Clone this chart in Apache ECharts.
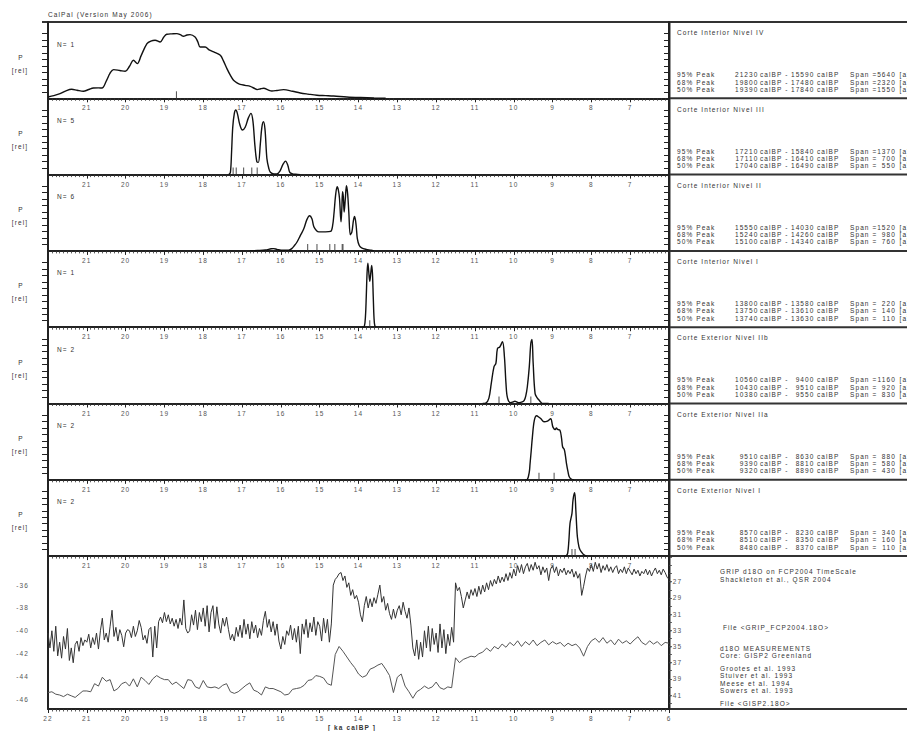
<!DOCTYPE html>
<html><head><meta charset="utf-8">
<script src="https://cdn.jsdelivr.net/npm/echarts@6/dist/echarts.min.js"></script>
<style>
html,body{margin:0;padding:0;background:#fff;}
#c{width:907px;height:731px;}
#c text{letter-spacing:1.1px;}
</style></head><body><div id="c"></div>
<script>
// ---------- DATA ----------
const panelTitles = ['Corte Interior Nivel IV','Corte Interior Nivel III','Corte Interior Nivel II','Corte Interior Nivel I','Corte Exterior Nivel IIb','Corte Exterior Nivel IIa','Corte Exterior Nivel I'];
const panelN = [1,5,6,1,2,2,2];
const peakLabels = ['95% Peak','68% Peak','50% Peak'];
// [from calBP, to calBP, span]
const statsIV   = [['21230','15590','5640'],['19800','17480','2320'],['19390','17840','1550']];
const statsIII  = [['17210','15840','1370'],['17110','16410','700'],['17040','16490','550']];
const statsII   = [['15550','14030','1520'],['15240','14260','980'],['15100','14340','760']];
const statsI    = [['13800','13580','220'],['13750','13610','140'],['13740','13630','110']];
const statsExIIb= [['10560','9400','1160'],['10430','9510','920'],['10380','9550','830']];
const statsExIIa= [['9510','8630','880'],['9390','8810','580'],['9320','8890','430']];
const statsExI  = [['8570','8230','340'],['8510','8350','160'],['8480','8370','110']];

// individual dates (ka calBP)
const datesIV = [18.69];
const datesIII = [17.23,17.15,16.96,16.75,16.61];
const datesII = [15.31,15.07,14.74,14.61,14.42,14.40];
const datesI = [13.71];
const datesExIIb = [10.38,9.56];
const datesExIIa = [9.35,8.96];
const datesExI = [8.50,8.42];

// summed probability [ka calBP, P rel]
const kdeIV = [[22.0,0.017],[21.85,0.035],[21.69,0.06],[21.55,0.095],[21.39,0.118],[21.25,0.105],[21.09,0.092],[20.95,0.115],[20.83,0.135],[20.7,0.137],[20.61,0.135],[20.49,0.236],[20.4,0.33],[20.31,0.376],[20.15,0.365],[20.01,0.354],[19.9,0.42],[19.8,0.498],[19.7,0.455],[19.6,0.56],[19.45,0.717],[19.35,0.75],[19.24,0.76],[19.11,0.738],[19.02,0.8],[18.94,0.839],[18.8,0.845],[18.68,0.848],[18.58,0.83],[18.51,0.813],[18.42,0.83],[18.34,0.835],[18.21,0.804],[18.14,0.74],[18.08,0.672],[17.95,0.672],[17.85,0.635],[17.73,0.607],[17.56,0.563],[17.48,0.49],[17.39,0.389],[17.3,0.3],[17.22,0.236],[17.12,0.2],[17.05,0.183],[16.92,0.17],[16.79,0.157],[16.7,0.135],[16.61,0.114],[16.52,0.125],[16.44,0.131],[16.33,0.11],[16.23,0.096],[16.1,0.103],[15.93,0.114],[15.7,0.092],[15.5,0.07],[15.3,0.055],[15.07,0.04],[14.85,0.035],[14.64,0.03],[14.3,0.018],[13.95,0.01],[13.6,0.004],[13.3,0.0]];
const kdeIII = [[17.34,0.0],[17.3,0.03],[17.27,0.3],[17.24,0.62],[17.2,0.8],[17.16,0.846],[17.12,0.8],[17.06,0.66],[16.99,0.584],[16.92,0.62],[16.84,0.74],[16.77,0.803],[16.72,0.7],[16.67,0.387],[16.62,0.17],[16.58,0.16],[16.53,0.4],[16.49,0.62],[16.45,0.693],[16.41,0.6],[16.36,0.21],[16.31,0.08],[16.27,0.03],[16.18,0.008],[16.1,0.01],[16.02,0.05],[15.95,0.13],[15.88,0.177],[15.82,0.12],[15.77,0.03],[15.7,0.01],[15.62,0.004],[15.5,0.0]];
const kdeII = [[16.8,0.0],[16.6,0.005],[16.4,0.012],[16.25,0.028],[16.19,0.03],[16.1,0.02],[15.95,0.008],[15.8,0.01],[15.72,0.03],[15.65,0.07],[15.58,0.12],[15.5,0.2],[15.41,0.29],[15.33,0.41],[15.26,0.46],[15.2,0.42],[15.15,0.316],[15.08,0.265],[15.02,0.25],[14.85,0.25],[14.72,0.255],[14.67,0.32],[14.63,0.5],[14.59,0.73],[14.55,0.84],[14.52,0.8],[14.49,0.69],[14.45,0.38],[14.43,0.55],[14.41,0.775],[14.39,0.7],[14.37,0.51],[14.34,0.68],[14.31,0.853],[14.28,0.75],[14.25,0.51],[14.21,0.21],[14.17,0.25],[14.13,0.4],[14.1,0.45],[14.06,0.33],[14.03,0.16],[13.98,0.07],[13.92,0.04],[13.8,0.02],[13.68,0.01],[13.6,0.0]];
const kdeI = [[13.9,0.0],[13.85,0.01],[13.82,0.15],[13.8,0.4],[13.78,0.7],[13.76,0.84],[13.74,0.75],[13.71,0.6],[13.69,0.68],[13.66,0.81],[13.64,0.7],[13.62,0.4],[13.6,0.12],[13.58,0.02],[13.55,0.0]];
const kdeExIIb = [[10.8,0.0],[10.72,0.005],[10.64,0.07],[10.58,0.26],[10.51,0.48],[10.46,0.525],[10.42,0.72],[10.36,0.74],[10.29,0.81],[10.24,0.61],[10.2,0.26],[10.16,0.07],[10.08,0.012],[10.02,0.02],[9.97,0.03],[9.92,0.02],[9.86,0.01],[9.78,0.02],[9.73,0.04],[9.69,0.1],[9.65,0.22],[9.6,0.48],[9.56,0.79],[9.53,0.84],[9.5,0.53],[9.45,0.13],[9.39,0.07],[9.35,0.045],[9.3,0.015],[9.26,0.0],[9.1,0.0]];
const kdeExIIa = [[9.7,0.0],[9.65,0.005],[9.6,0.1],[9.58,0.21],[9.55,0.38],[9.52,0.56],[9.47,0.78],[9.41,0.84],[9.35,0.82],[9.3,0.8],[9.22,0.76],[9.13,0.77],[9.05,0.8],[8.99,0.69],[8.93,0.66],[8.9,0.68],[8.87,0.66],[8.81,0.65],[8.77,0.55],[8.74,0.43],[8.7,0.4],[8.67,0.32],[8.64,0.21],[8.6,0.1],[8.57,0.04],[8.52,0.01],[8.45,0.0]];
const kdeExI = [[8.7,0.0],[8.65,0.005],[8.61,0.04],[8.58,0.2],[8.55,0.43],[8.5,0.56],[8.48,0.7],[8.46,0.78],[8.43,0.83],[8.4,0.6],[8.38,0.4],[8.36,0.25],[8.32,0.12],[8.29,0.08],[8.25,0.05],[8.2,0.02],[8.12,0.0]];

// GRIP d18O (per mil), 22.00 -> 6.00 ka calBP every 0.05 ka
const gripStart = 22, gripStep = 0.05;
const gripD18O = [
-40.2,-41.5,-40.0,-41.8,-39.6,-42.2,-41.0,-42.4,-40.5,-41.6,-39.8,-42.6,-41.5,-42.8,-41.2,-40.9,-41.8,-40.6,-41.3,-40.8,
-41.0,-40.3,-41.5,-40.6,-41.2,-40.2,-41.6,-40.0,-38.9,-40.8,-40.2,-41.0,-39.6,-38.2,-40.5,-39.7,-40.9,-39.9,-40.4,-41.4,
-40.2,-39.9,-40.0,-40.6,-39.6,-40.5,-40.0,-39.1,-39.7,-40.8,-40.4,-41.1,-39.9,-39.7,-42.3,-39.6,-41.5,-39.2,-38.8,-39.3,
-38.4,-39.2,-38.6,-39.4,-38.9,-39.6,-39.0,-39.8,-38.9,-39.5,-37.3,-39.8,-40.2,-40.0,-38.6,-39.5,-38.2,-39.9,-38.4,-39.2,
-38.0,-39.6,-37.8,-40.1,-38.4,-37.8,-39.8,-37.9,-39.4,-40.2,-38.9,-39.6,-38.8,-39.9,-40.8,-40.3,-40.9,-39.7,-40.5,-39.5,
-40.6,-39.0,-40.3,-39.4,-40.7,-39.2,-40.2,-39.5,-40.6,-39.8,-40.4,-39.1,-38.3,-39.7,-39.0,-40.1,-39.2,-40.4,-39.4,-40.9,
-41.6,-40.5,-41.2,-40.0,-40.4,-39.5,-40.8,-39.8,-41.0,-39.6,-42.0,-39.4,-40.3,-39.0,-40.6,-39.3,-40.1,-38.8,-40.4,-39.2,
-39.6,-40.9,-38.9,-40.2,-39.0,-41.0,-39.4,-36.0,-35.5,-35.3,-35.0,-34.9,-35.6,-35.2,-36.2,-35.8,-36.9,-36.4,-37.2,-36.9,
-37.5,-38.6,-39.2,-37.8,-37.0,-38.0,-37.2,-37.9,-37.1,-37.6,-36.8,-36.0,-37.5,-37.0,-38.2,-37.6,-38.5,-39.0,-38.1,-38.9,
-38.2,-37.8,-38.6,-37.5,-38.3,-38.9,-38.0,-39.5,-41.5,-42.2,-40.8,-42.5,-41.0,-42.3,-40.0,-41.5,-39.6,-41.8,-39.8,-41.2,
-40.2,-41.9,-39.4,-41.5,-39.9,-42.0,-40.3,-41.3,-39.7,-41.0,-35.8,-36.5,-36.2,-37.0,-38.0,-37.3,-36.6,-37.2,-36.4,-36.9,
-36.3,-37.0,-36.1,-36.8,-36.0,-36.6,-35.8,-36.4,-35.6,-36.1,-35.5,-35.9,-35.2,-35.8,-35.3,-35.7,-35.0,-35.6,-34.9,-35.4,
-34.6,-35.2,-34.3,-34.9,-34.2,-35.0,-34.4,-34.1,-34.8,-34.2,-34.7,-34.0,-34.6,-34.3,-35.1,-34.4,-34.9,-34.5,-35.6,-34.6,
-34.3,-34.9,-34.4,-35.2,-34.6,-34.9,-34.5,-35.1,-34.7,-35.0,-34.6,-35.3,-34.8,-35.4,-35.0,-36.9,-36.1,-35.2,-34.5,-34.8,
-34.2,-34.8,-34.0,-34.6,-34.1,-34.9,-34.3,-34.7,-34.2,-34.8,-34.4,-34.9,-34.5,-34.3,-35.0,-34.6,-34.9,-34.4,-35.0,-34.5,
-34.8,-35.1,-34.6,-35.0,-34.7,-35.2,-34.8,-35.0,-34.6,-35.1,-34.7,-35.2,-34.8,-34.5,-35.0,-34.7,-35.1,-34.6,-34.9,-35.3,
-35.5];

// GISP2 d18O (per mil), 22.0 -> 6.0 ka calBP every 0.1 ka
const gispStart = 22, gispStep = 0.1;
const gispD18O = [
-40.7,-40.6,-40.9,-41.0,-41.2,-40.9,-41.1,-41.3,-40.9,-40.5,
-40.5,-40.6,-39.6,-39.9,-38.8,-39.3,-39.1,-40.5,-40.2,-39.6,
-39.4,-39.9,-39.0,-40.0,-38.8,-39.2,-39.7,-39.0,-38.6,-38.9,
-39.1,-39.1,-39.7,-39.4,-39.8,-40.2,-39.1,-39.2,-40.0,-40.2,
-39.2,-40.0,-40.1,-40.0,-40.2,-39.8,-39.6,-40.6,-40.8,-40.6,
-40.2,-39.8,-39.5,-40.4,-40.6,-41.0,-40.0,-40.2,-40.2,-40.4,
-40.6,-41.0,-40.9,-40.3,-40.2,-40.1,-39.8,-39.2,-39.1,-38.6,
-38.7,-38.9,-39.6,-39.8,-36.0,-35.0,-35.6,-36.3,-37.0,-37.6,
-38.4,-38.8,-38.6,-37.8,-37.6,-37.3,-37.1,-37.8,-38.6,-40.7,
-38.8,-38.4,-39.9,-40.6,-41.4,-40.6,-40.3,-39.9,-40.2,-40.0,
-39.4,-40.1,-40.3,-40.0,-40.1,-36.4,-37.0,-36.6,-36.4,-36.2,
-36.3,-35.9,-35.7,-35.2,-35.6,-35.0,-35.3,-34.7,-35.1,-34.5,
-34.9,-34.3,-35.0,-34.4,-34.8,-34.2,-34.9,-34.5,-34.2,-34.8,
-34.4,-34.7,-34.5,-35.0,-34.6,-34.9,-34.7,-35.2,-36.2,-35.0,
-34.3,-34.0,-34.5,-33.9,-34.6,-34.2,-34.8,-34.1,-34.6,-34.3,
-34.7,-34.2,-33.8,-34.5,-34.8,-34.3,-34.7,-34.4,-34.9,-34.5,
-34.6];

const leftTicks = [-36,-38,-40,-42,-44,-46];
const rightTicks = [-27,-29,-31,-33,-35,-37,-39,-41];

const bottomTexts = ['GRIP d18O on FCP2004 TimeScale','Shackleton et al., QSR 2004',' File <GRIP_FCP2004.18O>','d18O MEASUREMENTS','Core: GISP2 Greenland','Grootes et al. 1993','Stuiver et al. 1993','Meese et al. 1994','Sowers et al. 1993','File <GISP2.18O>'];

// ---------- BUILD ----------
const kdes = [kdeIV,kdeIII,kdeII,kdeI,kdeExIIb,kdeExIIa,kdeExI];
const dates = [datesIV,datesIII,datesII,datesI,datesExIIb,datesExIIa,datesExI];
const stats = [statsIV,statsIII,statsII,statsI,statsExIIb,statsExIIa,statsExI];

const FONT = 'Liberation Sans';
const TC = '#333';
const L = 48, R = 669, PH = 76.3, T0 = 22, BOT = 709;
const panelTop = i => T0 + i*PH;

const grids = [], xAxes = [], yAxes = [], series = [];
const pTicks = []; for (let k=1;k<=10;k++) pTicks.push(+(k*0.0848).toFixed(4));

function xAxisCfg(gi, ends){
  return {type:'value', gridIndex:gi, min:6, max:22, inverse:true, interval:1,
    axisLine:{show:true, onZero:false, lineStyle:{color:'#222', width:2}},
    axisTick:{show:true, inside:false, length:4, lineStyle:{color:'#222', width:1}},
    minorTick:{show:true, splitNumber:10, length:2.5, lineStyle:{color:'#333', width:0.8}},
    axisLabel:{show:true, margin:6, fontSize:6.5, color:'#555', fontFamily:FONT, showMinLabel:ends, showMaxLabel:ends},
    splitLine:{show:false}};
}
for (let i=0;i<7;i++){
  grids.push({left:L, top:panelTop(i), width:R-L, height:PH});
  xAxes.push(xAxisCfg(i,false));
  yAxes.push({type:'value', gridIndex:i, min:0, max:1, position:'left',
    axisLine:{show:true, lineStyle:{color:'#222', width:2}},
    axisTick:{show:true, inside:false, length:6, customValues:pTicks, lineStyle:{color:'#222', width:1}},
    axisLabel:{show:false}, splitLine:{show:false}});
  yAxes.push({type:'value', gridIndex:i, min:0, max:1, position:'right',
    axisLine:{show:true, lineStyle:{color:'#222', width:2}},
    axisTick:{show:true, inside:true, length:5, customValues:pTicks, lineStyle:{color:'#222', width:1}},
    axisLabel:{show:false}, splitLine:{show:false}});
  series.push({type:'line', xAxisIndex:i, yAxisIndex:2*i, data:kdes[i], smooth:0.35, showSymbol:false, silent:true,
    lineStyle:{color:'#111', width:1.4}});
  series.push({type:'scatter', xAxisIndex:i, yAxisIndex:2*i, data:dates[i].map(d=>[d,0]), symbol:'rect',
    symbolSize:[1.1,7], symbolOffset:[0,-3.5], silent:true, itemStyle:{color:'#333'}});
}
grids.push({left:L, top:panelTop(7), width:R-L, height:BOT-panelTop(7)});
xAxes.push(xAxisCfg(7,true));
yAxes.push({type:'value', gridIndex:7, min:-46.85, max:-33.46, position:'left',
  axisLine:{show:true, lineStyle:{color:'#222', width:2}}, axisTick:{show:false},
  axisLabel:{show:true, customValues:leftTicks, margin:19, fontSize:6.5, color:'#555', fontFamily:FONT},
  splitLine:{show:false}});
const rTickVals = []; for (let v=-24; v>=-42; v--) rTickVals.push(v);
yAxes.push({type:'value', gridIndex:7, min:-42.73, max:-23.83, position:'right',
  axisLine:{show:true, lineStyle:{color:'#222', width:2}},
  axisTick:{show:true, inside:false, length:3, customValues:rTickVals, lineStyle:{color:'#444', width:0.8}},
  axisLabel:{show:true, customValues:rightTicks, margin:0.5, fontSize:6.5, color:'#555', fontFamily:FONT},
  splitLine:{show:false}});
series.push({type:'line', xAxisIndex:7, yAxisIndex:14, showSymbol:false, silent:true,
  data:gripD18O.map((v,k)=>[+(gripStart-k*gripStep).toFixed(2), v]), lineStyle:{color:'#333', width:1}});
series.push({type:'line', xAxisIndex:7, yAxisIndex:15, showSymbol:false, silent:true,
  data:gispD18O.map((v,k)=>[+(gispStart-k*gispStep).toFixed(2), v]), lineStyle:{color:'#555', width:1}});

// ---------- GRAPHIC ----------
const g = [];
function txt(t,x,y,opt){ g.push({type:'text', silent:true, style:Object.assign({text:t, x:x, y:y, fill:TC, fontSize:6.5, fontFamily:FONT, align:'left', verticalAlign:'middle'}, opt||{})}); }
function line(x1,y1,x2,y2,w){ g.push({type:'line', silent:true, shape:{x1,y1,x2,y2}, style:{stroke:'#333', lineWidth:w||2}}); }

txt('CalPal (Version May 2006)', 48, 14);
line(42, T0, 907, T0, 2);
line(R+0.5, T0, R+0.5, BOT, 2);
for (let k=1;k<=7;k++) line(R, panelTop(k), 907, panelTop(k), 2);
line(L, BOT, 907, BOT, 2);

for (let i=0;i<7;i++){
  const T = panelTop(i);
  txt('P', 21, T+35, {align:'center'});
  txt('[rel]', 20, T+48, {align:'center'});
  txt('N= ' + panelN[i], 57, T+22);
  txt(panelTitles[i], 677, T+10.7);
  for (let r=0;r<3;r++){
    const y = T + 52.7 + r*7.3;
    const s = stats[i][r];
    txt(peakLabels[r], 677, y);
    txt(s[0], 758.5, y, {align:'right'});
    txt('calBP -', 760, y);
    txt(s[1], 814.5, y, {align:'right'});
    txt('calBP', 817, y);
    txt('Span =', 850, y);
    txt(s[2], 896, y, {align:'right'});
    txt('[a]', 899.5, y);
  }
}
const bty = [571.7,579,627.3,648.3,655.7,668.3,675.7,683,690.3,703.3];
bottomTexts.forEach((t,k)=>txt(t, 720, bty[k]));
txt('[ ka calBP ]', 352, 727, {align:'center', fontWeight:'bold'});

const chart = echarts.init(document.getElementById('c'), null, {renderer:'svg'});
chart.setOption({animation:false, backgroundColor:'#fff', grid:grids, xAxis:xAxes, yAxis:yAxes, series:series, graphic:{elements:g}});
</script></body></html>
